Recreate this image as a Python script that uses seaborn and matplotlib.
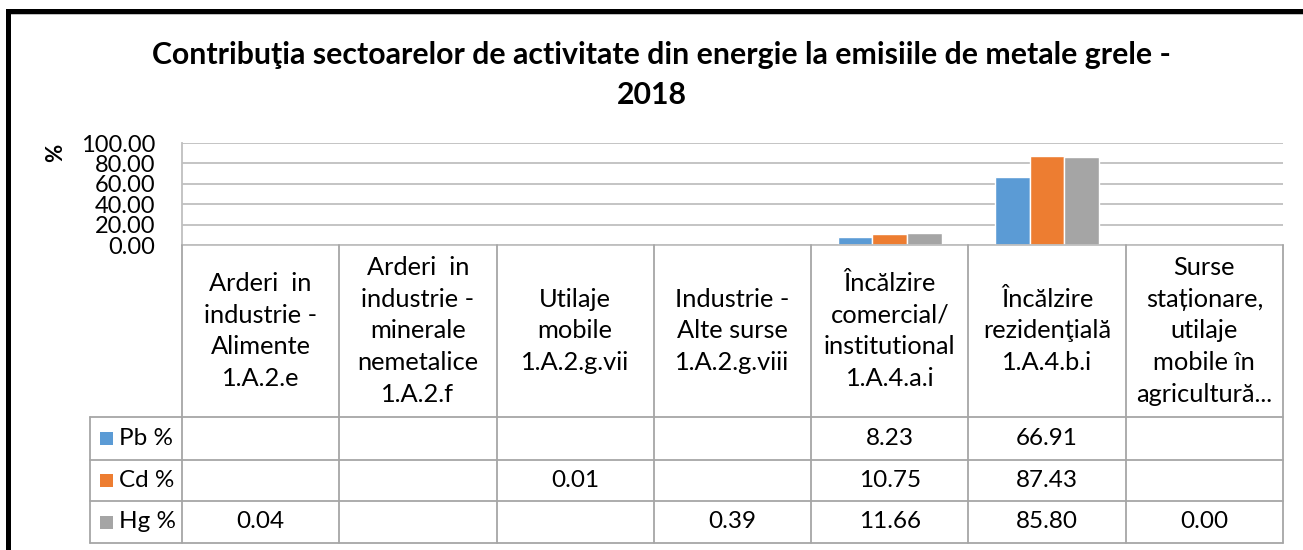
import numpy as np
import pandas as pd
import matplotlib
matplotlib.use("Agg")
import matplotlib.pyplot as plt
import matplotlib.transforms as mtransforms
from matplotlib.patches import Rectangle
from matplotlib.lines import Line2D
import seaborn as sns

# ---------------- data ----------------
categories = [
    "Arderi  in\nindustrie -\nAlimente\n1.A.2.e",
    "Arderi  in\nindustrie -\nminerale\nnemetalice\n1.A.2.f",
    "Utilaje\nmobile\n1.A.2.g.vii",
    "Industrie -\nAlte surse\n1.A.2.g.viii",
    "Încălzire\ncomercial/\ninstitutional\n1.A.4.a.i",
    "Încălzire\nrezidenţială\n1.A.4.b.i",
    "Surse\nstaționare,\nutilaje\nmobile în\nagricultură...",
]
series = ["Pb %", "Cd %", "Hg %"]
pb_values = [np.nan, np.nan, np.nan, np.nan, 8.23, 66.91, np.nan]
cd_values = [np.nan, np.nan, 0.01, np.nan, 10.75, 87.43, np.nan]
hg_values = [0.04, np.nan, np.nan, 0.39, 11.66, 85.80, 0.00]
colors = ["#5B9BD5", "#ED7D31", "#A5A5A5"]
yticks = [0, 20, 40, 60, 80, 100]
title_line1 = "Contribuţia sectoarelor de activitate din energie la emisiile de metale grele -"
title_line2 = "2018"
ylabel = "%"

values = {"Pb %": pb_values, "Cd %": cd_values, "Hg %": hg_values}
rows = []
for s in series:
    for c, v in zip(categories, values[s]):
        rows.append({"cat": c, "series": s, "val": v})
df = pd.DataFrame(rows)
df_plot = df.dropna()

# ---------------- layout ----------------
W, H = 1303, 550
def fx(px):
    return px / W
def fy(py):
    return 1 - py / H

sns.set_theme(style="white")
plt.rcParams["font.family"] = ["Lato", "DejaVu Sans"]

fig = plt.figure(figsize=(W / 100, H / 100), dpi=100)
fig.patch.set_facecolor("white")

ax = fig.add_axes([fx(182), fy(245), fx(1283) - fx(182), fy(143) - fy(245)])
sns.barplot(data=df_plot, x="cat", y="val", hue="series", order=categories,
            hue_order=series, palette=colors, width=0.66, saturation=1,
            errorbar=None, legend=False, ax=ax)
ax.set_xlim(-0.5, len(categories) - 0.5)
ax.set_ylim(0, 100)
ax.set_yticks(yticks)
ax.set_yticklabels([f"{t:.2f}" for t in yticks])
ax.set_xlabel("")
ax.set_ylabel("")
ax.tick_params(axis="x", length=0, labelbottom=False)
ax.tick_params(axis="y", length=0, pad=19, labelsize=17, labelcolor="#000000")
grid_c = "#BFBFBF"
ax.yaxis.grid(True, color=grid_c, lw=1.3)
ax.set_axisbelow(True)
for sp in ["top", "right"]:
    ax.spines[sp].set_visible(False)
ax.spines["left"].set_color(grid_c)
ax.spines["bottom"].set_color(grid_c)
ax.spines["left"].set_linewidth(1.3)
ax.spines["bottom"].set_linewidth(1.3)

# ---------------- data table ----------------
line_c = "#A6A6A6"
bt = mtransforms.blended_transform_factory(ax.transData, fig.transFigure)
row_edges = [417, 460, 501, 543]
n = len(categories)
for i in range(n + 1):
    fig.add_artist(Line2D([i - 0.5, i - 0.5], [fy(245), fy(543)], transform=bt,
                          color=line_c, lw=1.3))
fig.add_artist(Line2D([fx(90), fx(90)], [fy(417), fy(543)], transform=fig.transFigure,
                      color=line_c, lw=1.3))
for ry in row_edges:
    fig.add_artist(Line2D([fx(90), fx(1283)], [fy(ry), fy(ry)], transform=fig.transFigure,
                          color=line_c, lw=1.3))

hsize = 18.3
tsize = 17.5
for i, c in enumerate(categories):
    fig.text(i, fy(331), c, transform=bt, ha="center", va="center",
             multialignment="center", fontsize=hsize, linespacing=1.45, color="#000000")

for r, s in enumerate(series):
    top, bot = row_edges[r], row_edges[r + 1]
    cy = (top + bot) / 2
    fig.add_artist(Rectangle((fx(100), fy(cy + 6.5)), fx(113) - fx(100), fy(cy - 6.5) - fy(cy + 6.5),
                             transform=fig.transFigure, facecolor=colors[r], edgecolor="none"))
    fig.text(fx(119), fy(cy), s, ha="left", va="center", fontsize=tsize, color="#000000")
    for i, v in enumerate(values[s]):
        if not np.isnan(v):
            fig.text(i, fy(cy), f"{v:.2f}", transform=bt, ha="center", va="center",
                     fontsize=tsize, color="#000000")

# ---------------- title / labels ----------------
t1 = fig.text(fx(661), fy(64), title_line1, ha="center", va="baseline",
              fontsize=20, fontweight="bold", color="#000000")
fig.canvas.draw()
w = t1.get_window_extent(fig.canvas.get_renderer()).width
fs_title = 20 * 1018 / w
t1.set_fontsize(fs_title)
fig.text(fx(652), fy(104), title_line2, ha="center", va="baseline",
         fontsize=fs_title, fontweight="bold", color="#000000")
fig.text(fx(56), fy(153), ylabel, rotation=90, ha="center", va="center",
         fontsize=16, fontweight="bold", color="#000000")

# ---------------- frame ----------------
fig.add_artist(Rectangle((fx(6), fy(14)), 1 - fx(6), fy(9) - fy(14), transform=fig.transFigure,
                         facecolor="black", edgecolor="none"))
fig.add_artist(Rectangle((fx(11), fy(15)), 1 - fx(11), fy(14) - fy(15), transform=fig.transFigure,
                         facecolor="#BFBFBF", edgecolor="none"))
fig.add_artist(Rectangle((fx(6), 0), fx(11) - fx(6), fy(9), transform=fig.transFigure,
                         facecolor="black", edgecolor="none"))

fig.savefig("out.png", dpi=100)
